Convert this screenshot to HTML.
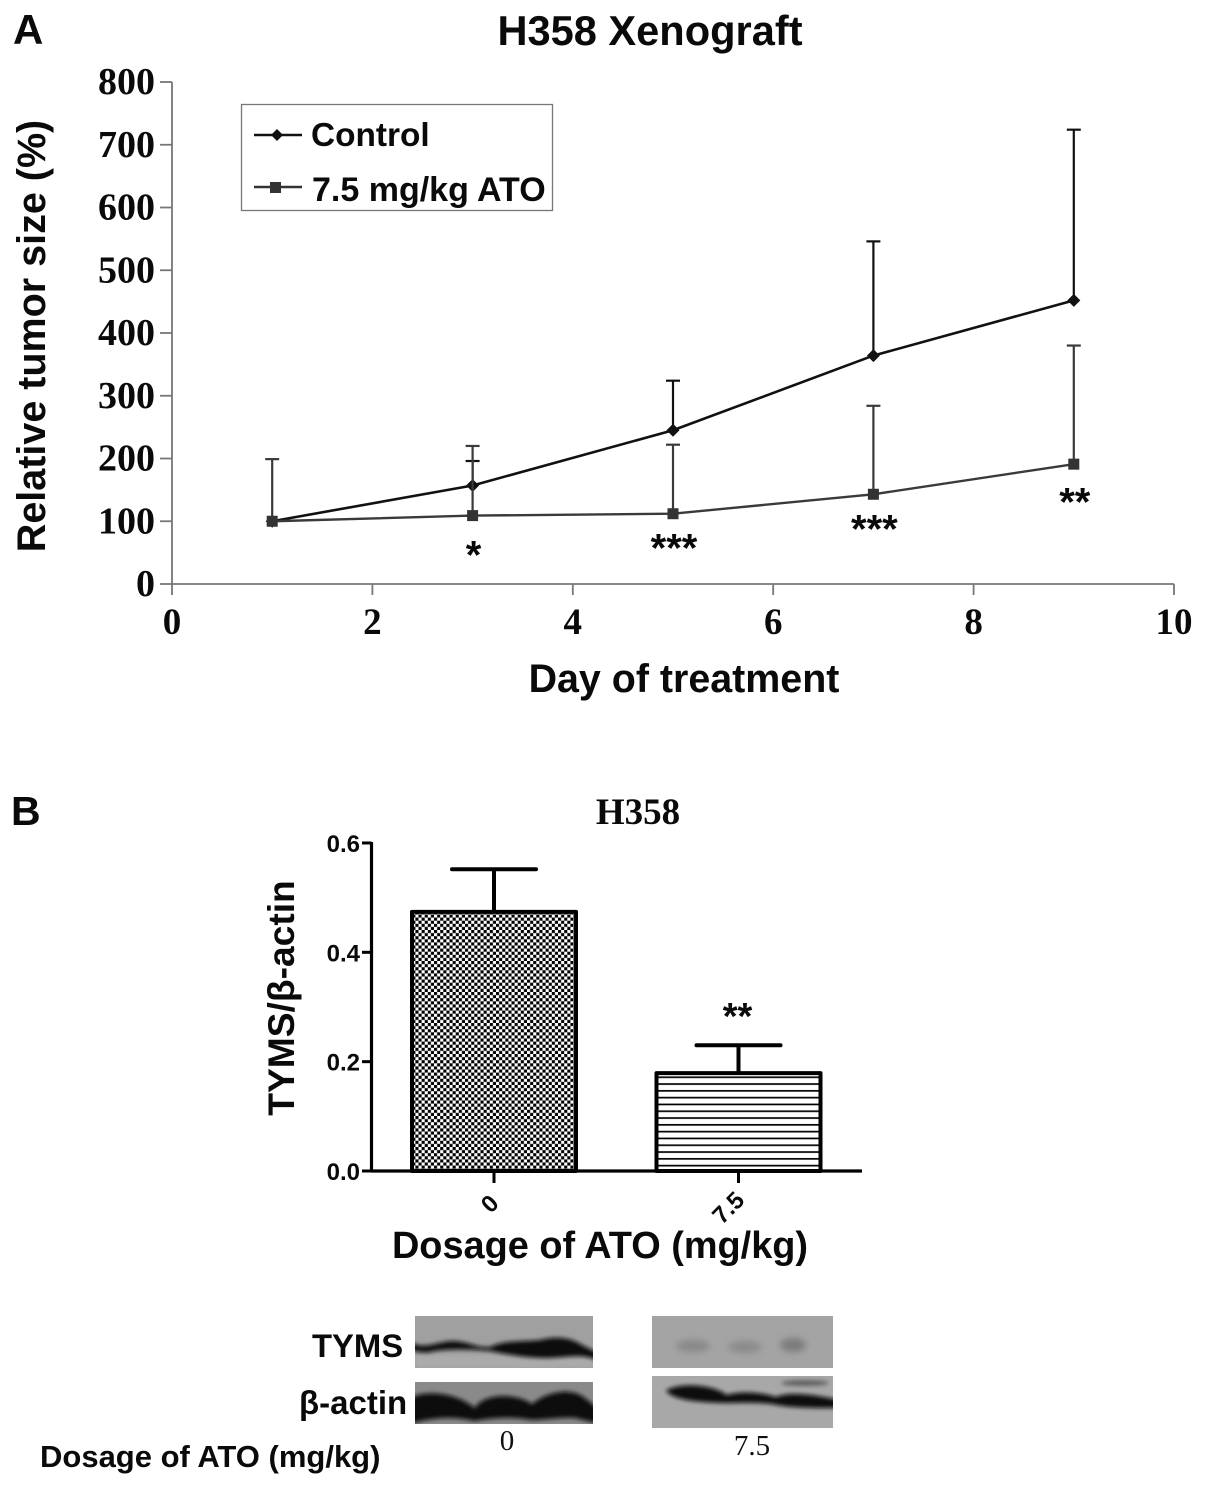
<!DOCTYPE html>
<html lang="en">
<head>
<meta charset="utf-8">
<title>H358 Xenograft</title>
<style>
html,body{margin:0;padding:0;background:#fff}
svg{display:block}
.sans{font-family:"Liberation Sans",sans-serif;font-weight:bold;fill:#0a0a0a}
.serif{font-family:"Liberation Serif",serif;font-weight:bold;fill:#0a0a0a}
</style>
</head>
<body>
<svg id="fig" xmlns="http://www.w3.org/2000/svg" width="1205" height="1494" viewBox="0 0 1205 1494">
<defs>
<pattern id="checker" width="6.2" height="6.2" patternUnits="userSpaceOnUse">
<rect width="6.2" height="6.2" fill="#fff"/>
<rect width="3.1" height="3.1" fill="#000"/>
<rect x="3.1" y="3.1" width="3.1" height="3.1" fill="#000"/>
</pattern>
<pattern id="stripes" width="6.8" height="6.8" patternUnits="userSpaceOnUse">
<rect width="6.8" height="6.8" fill="#fff"/>
<rect y="2" width="6.8" height="1.7" fill="#000"/>
</pattern>
<filter id="b3" x="-20%" y="-80%" width="140%" height="260%"><feGaussianBlur stdDeviation="3.4"/></filter>
<filter id="b2" x="-20%" y="-60%" width="140%" height="220%"><feGaussianBlur stdDeviation="2.2"/></filter>
<clipPath id="c1"><rect x="415" y="1316" width="178" height="52"/></clipPath>
<clipPath id="c2"><rect x="415" y="1382" width="178" height="42"/></clipPath>
<clipPath id="c3"><rect x="652" y="1316" width="181" height="52"/></clipPath>
<clipPath id="c4"><rect x="652" y="1376" width="181" height="52"/></clipPath>
</defs>

<text class="sans" x="13" y="44" font-size="42">A</text>
<text class="sans" x="650" y="45" font-size="41.6" text-anchor="middle">H358 Xenograft</text>
<text class="sans" x="684" y="692" font-size="39.4" text-anchor="middle">Day of treatment</text>
<text class="sans" transform="translate(45,336) rotate(-90)" font-size="39.5" text-anchor="middle">Relative tumor size (%)</text>
<g id="chartA"></g>

<g>
<rect x="241.5" y="104.5" width="311" height="106" fill="#fff" stroke="#777" stroke-width="1.3"/>
<g>
<line x1="254" y1="135" x2="302" y2="135" stroke="#111" stroke-width="2.4"/>
<polygon points="277,129 283,135 277,141 271,135" fill="#111"/>
<text class="sans" x="311" y="146" font-size="33.4">Control</text>
</g>
<g>
<line x1="254" y1="187" x2="302" y2="187" stroke="#333" stroke-width="2.4"/>
<rect x="270" y="182" width="11" height="11" fill="#333"/>
<text class="sans" x="312" y="201" font-size="34">7.5 mg/kg ATO</text>
</g>
</g>

<text class="sans" x="11" y="825" font-size="41">B</text>
<text class="serif" x="638" y="824" font-size="37" text-anchor="middle">H358</text>
<text class="sans" x="600" y="1258" font-size="37.9" text-anchor="middle">Dosage of ATO (mg/kg)</text>
<text class="sans" transform="translate(294,998) rotate(-90)" font-size="37.2" text-anchor="middle">TYMS/β-actin</text>
<g id="chartB"></g>

<g>
<g clip-path="url(#c1)">
<rect x="415" y="1316" width="178" height="52" fill="#a0a0a0"/>
<rect x="415" y="1355" width="178" height="13" fill="#ababab" filter="url(#b2)"/>
<path d="M410 1342 C425 1350 435 1342 452 1341 C468 1341 475 1348 490 1347 C505 1340 520 1342 540 1340 C555 1336 570 1337 582 1345 L600 1354 L600 1362 C585 1352 565 1358 545 1358 C525 1358 505 1354 490 1351 C470 1349 450 1349 435 1351 C425 1354 418 1352 410 1350Z" fill="#111" filter="url(#b2)"/>
</g>
<g clip-path="url(#c2)">
<rect x="415" y="1382" width="178" height="42" fill="#8a8a8a"/>
<path d="M410 1398 C425 1390 455 1392 475 1408 C482 1394 515 1392 532 1404 C545 1393 570 1386 585 1398 L600 1410 L600 1424 L575 1418 C560 1417 545 1420 532 1420 C515 1417 495 1417 475 1421 C460 1418 440 1415 410 1424Z" fill="#0a0a0a" filter="url(#b2)"/>
</g>
<g clip-path="url(#c3)">
<rect x="652" y="1316" width="181" height="52" fill="#a4a4a4"/>
<ellipse cx="693" cy="1346" rx="17" ry="6" fill="#888" filter="url(#b3)"/>
<ellipse cx="745" cy="1347" rx="17" ry="6" fill="#8a8a8a" filter="url(#b3)"/>
<ellipse cx="793" cy="1345" rx="13" ry="7" fill="#7c7c7c" filter="url(#b3)"/>
</g>
<g clip-path="url(#c4)">
<rect x="652" y="1376" width="181" height="52" fill="#a8a8a8"/>
<path d="M666 1391 C675 1383 710 1383 727 1395 C740 1391 760 1392 776 1397 C790 1391 815 1395 840 1400 L840 1408 C810 1408 790 1408 772 1404 C755 1402 740 1403 722 1403 C700 1402 675 1401 666 1391Z" fill="#0a0a0a" filter="url(#b2)"/>
<ellipse cx="805" cy="1383" rx="24" ry="3" fill="#5e5e5e" filter="url(#b2)"/>
</g>
</g>

<text class="sans" x="312" y="1357" font-size="32.8">TYMS</text>
<text class="sans" x="299" y="1414" font-size="33">β-actin</text>
<text class="sans" x="40" y="1467" font-size="31">Dosage of ATO (mg/kg)</text>
<text x="507" y="1450" font-size="29" text-anchor="middle" font-family="'Liberation Serif',serif" fill="#111">0</text>
<text x="752" y="1455" font-size="29" text-anchor="middle" font-family="'Liberation Serif',serif" fill="#111">7.5</text>
</svg>

<script>
// ---- Panel A data ----
const days = [1, 3, 5, 7, 9];
const controlMeans = [100, 157, 245, 364, 452];
const controlErrorTops = [100, 196, 324, 546, 724];
const atoMeans = [100, 109, 112, 143, 191];
const atoErrorTops = [199, 220, 222, 284, 380];
const significanceDays = [3, 5, 7, 9];
const significanceMarks = ['*', '***', '***', '**'];
const significanceLevels = [44, 55, 85, 128];
const xTickLabelsA = [0, 2, 4, 6, 8, 10];
const yTickLabelsA = [0, 100, 200, 300, 400, 500, 600, 700, 800];

// ---- Panel B data ----
const doseLabels = ['0', '7.5'];
const doseMeans = [0.474, 0.179];
const doseErrorTops = [0.552, 0.23];
const dosePatterns = ['url(#checker)', 'url(#stripes)'];
const yTickLabelsB = ['0.0', '0.2', '0.4', '0.6'];

const NS = 'http://www.w3.org/2000/svg';
function make(parent, tag, attrs, text) {
  const el = document.createElementNS(NS, tag);
  for (const k in attrs) el.setAttribute(k, attrs[k]);
  if (text !== undefined) el.textContent = text;
  parent.appendChild(el);
  return el;
}
function mark(el, name) {
  
  
  return el;
}

// ---- Panel A axes ----
const xA = v => 172 + v * 100.2;
const yA = v => 584 - v * 0.6275;
const A = document.getElementById('chartA');
const axisColor = '#777';

mark(make(A, 'line', {x1: xA(0), y1: yA(0), x2: xA(10), y2: yA(0), stroke: axisColor, 'stroke-width': 1.8}), 'x-axis-line');
mark(make(A, 'line', {x1: xA(0), y1: yA(0), x2: xA(0), y2: yA(800), stroke: axisColor, 'stroke-width': 1.8}), 'y-axis-line');

xTickLabelsA.forEach(function (t) {
  mark(make(A, 'line', {x1: xA(t), y1: yA(0), x2: xA(t), y2: yA(0) + 11, stroke: axisColor, 'stroke-width': 1.8}), 'x-tick');
  mark(make(A, 'text', {class: 'serif', x: xA(t), y: 634, 'font-size': 37, 'text-anchor': 'middle'}, String(t)), 'x-tick-label');
});
yTickLabelsA.forEach(function (t) {
  mark(make(A, 'line', {x1: xA(0) - 12, y1: yA(t), x2: xA(0), y2: yA(t), stroke: axisColor, 'stroke-width': 1.8}), 'y-tick');
  mark(make(A, 'text', {class: 'serif', x: 155, y: yA(t) + 12, 'font-size': 38, 'text-anchor': 'end'}, String(t)), 'y-tick-label');
});

function drawSeries(name, means, tops, color, width) {
  const g = mark(make(A, 'g', {}), name + '-series');
  days.forEach(function (d, i) {
    if (tops[i] > means[i]) {
      mark(make(g, 'line', {x1: xA(d), y1: yA(means[i]), x2: xA(d), y2: yA(tops[i]), stroke: color, 'stroke-width': 2.2}), name + '-error-bar');
      mark(make(g, 'line', {x1: xA(d) - 7, y1: yA(tops[i]), x2: xA(d) + 7, y2: yA(tops[i]), stroke: color, 'stroke-width': 2.2}), name + '-error-cap');
    }
  });
  const pts = days.map(function (d, i) { return xA(d) + ',' + yA(means[i]); }).join(' ');
  mark(make(g, 'polyline', {points: pts, fill: 'none', stroke: color, 'stroke-width': width}), name + '-line');
  return g;
}
const gControl = drawSeries('control', controlMeans, controlErrorTops, '#111', 2.6);
days.forEach(function (d, i) {
  const x = xA(d), y = yA(controlMeans[i]);
  mark(make(gControl, 'polygon', {points: [x, y - 6.5, x + 6.5, y, x, y + 6.5, x - 6.5, y].join(' '), fill: '#111'}), 'control-point');
});
const gAto = drawSeries('ato', atoMeans, atoErrorTops, '#3a3a3a', 2.4);
days.forEach(function (d, i) {
  mark(make(gAto, 'rect', {x: xA(d) - 5.5, y: yA(atoMeans[i]) - 5.5, width: 11, height: 11, fill: '#333'}), 'ato-point');
});
significanceDays.forEach(function (d, i) {
  mark(make(A, 'text', {class: 'sans', x: xA(d) + 1, y: yA(significanceLevels[i]) + 12, 'font-size': 40, 'text-anchor': 'middle'}, significanceMarks[i]), 'significance-mark');
});

// ---- Panel B axes ----
const yB = v => 1171 - v * 546.7;
const barCenter = [494, 738.5];
const barHalf = 82;
const B = document.getElementById('chartB');

doseLabels.forEach(function (label, i) {
  const c = barCenter[i];
  mark(make(B, 'line', {x1: c, y1: yB(doseMeans[i]), x2: c, y2: yB(doseErrorTops[i]), stroke: '#000', 'stroke-width': 4}), 'bar-error-line');
  mark(make(B, 'line', {x1: c - 42, y1: yB(doseErrorTops[i]), x2: c + 42, y2: yB(doseErrorTops[i]), stroke: '#000', 'stroke-width': 4, 'stroke-linecap': 'round'}), 'bar-error-cap');
  mark(make(B, 'rect', {x: c - barHalf, y: yB(doseMeans[i]), width: barHalf * 2, height: yB(0) - yB(doseMeans[i]), fill: dosePatterns[i], stroke: '#000', 'stroke-width': 4, 'stroke-linejoin': 'round'}), 'bar-dose-' + i);
  mark(make(B, 'line', {x1: c, y1: yB(0), x2: c, y2: yB(0) + 12, stroke: '#000', 'stroke-width': 3}), 'x-tick');
  const lx = c - 3 + i * -6, ly = 1205 + i * 4;
  mark(make(B, 'text', {class: 'sans', transform: 'translate(' + lx + ',' + ly + ') rotate(-45)', 'font-size': 24, 'text-anchor': 'middle', 'dominant-baseline': 'middle'}, label), 'x-tick-label');
});
mark(make(B, 'line', {x1: 371.5, y1: yB(0), x2: 862, y2: yB(0), stroke: '#000', 'stroke-width': 3.2}), 'x-axis-line');
mark(make(B, 'line', {x1: 371.5, y1: yB(0), x2: 371.5, y2: yB(0.6) - 1, stroke: '#000', 'stroke-width': 3.2}), 'y-axis-line');
yTickLabelsB.forEach(function (t) {
  const v = parseFloat(t);
  mark(make(B, 'line', {x1: 362, y1: yB(v), x2: 371.5, y2: yB(v), stroke: '#000', 'stroke-width': 3}), 'y-tick');
  mark(make(B, 'text', {class: 'sans', x: 360, y: yB(v) + 9, 'font-size': 24, 'text-anchor': 'end'}, t), 'y-tick-label');
});
mark(make(B, 'text', {class: 'sans', x: barCenter[1] - 1, y: 1029, 'font-size': 38, 'text-anchor': 'middle'}, '**'), 'significance-mark');
</script>
</body>
</html>
